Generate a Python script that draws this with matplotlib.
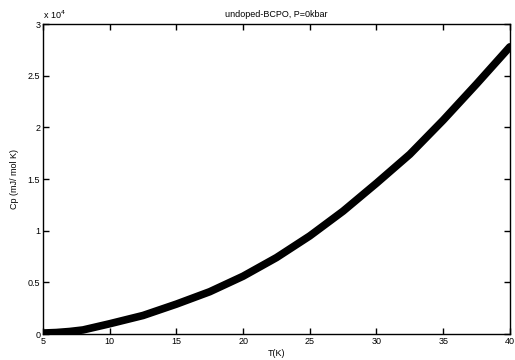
import matplotlib
matplotlib.use("Agg")
import matplotlib.pyplot as plt

# values (Cp in mJ/mol K)
temps = [5, 6, 7, 8, 10, 12.5, 15, 17.5, 20, 22.5, 25, 27.5, 30, 32.5, 35, 37.5, 40]
cp = [100, 150, 250, 400, 1000, 1800, 2900, 4100, 5600, 7400, 9500, 11900, 14600, 17400, 20700, 24200, 27800]

plt.rcParams['font.family'] = ['Liberation Sans', 'DejaVu Sans']

fig = plt.figure(figsize=(5.15, 3.6), dpi=100)
ax = fig.add_axes([0.0835, 0.072, 0.9065, 0.861])

ax.plot(temps, [c / 1e4 for c in cp], color='black', linewidth=5.5,
        solid_capstyle='round', solid_joinstyle='round')

ax.set_xlim(5, 40)
ax.set_ylim(0, 3)
ax.set_xticks([5, 10, 15, 20, 25, 30, 35, 40])
ax.set_yticks([0, 0.5, 1, 1.5, 2, 2.5, 3])
ax.set_yticklabels(['0', '0.5', '1', '1.5', '2', '2.5', '3'])
ax.tick_params(direction='in', length=4, width=1, labelsize=6.5, pad=2,
               top=True, right=True)
for s in ax.spines.values():
    s.set_linewidth(1)

ax.set_xlabel('T(K)', fontsize=6.5, labelpad=2)
ax.set_ylabel('Cp (mJ/ mol K)', fontsize=6.5, labelpad=6)
ax.set_title('undoped-BCPO, P=0kbar', fontsize=6.5, pad=5)
ax.text(0.0, 1.01, r'x 10$^4$', transform=ax.transAxes, fontsize=6.5,
        ha='left', va='bottom')

fig.savefig('out.png', dpi=100)
